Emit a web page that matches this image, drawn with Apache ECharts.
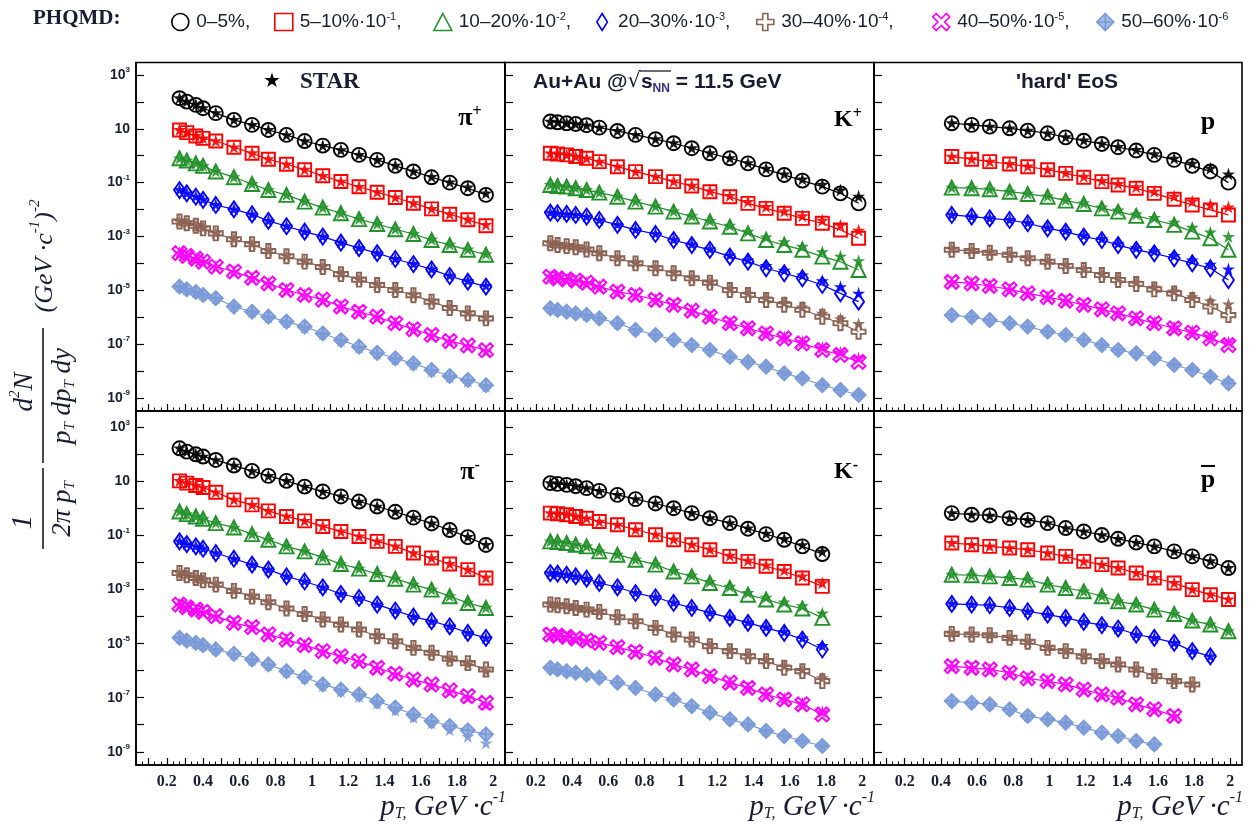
<!DOCTYPE html>
<html>
<head>
<meta charset="utf-8">
<script src="https://cdn.jsdelivr.net/npm/echarts@6/dist/echarts.min.js"></script>
<style>
  html, body { margin: 0; padding: 0; background: #ffffff; }
  #chart { width: 1249px; height: 834px; }
</style>
</head>
<body>
<div id="chart"></div>
<script>
// Centrality classes, their plotting scale factors (powers of ten) and colours
const centralities = ['0–5%', '5–10%', '10–20%', '20–30%', '30–40%', '40–50%', '50–60%'];
const scaleExp = ['', '-1', '-2', '-3', '-4', '-5', '-6'];
const colors = ['#000000', '#ff0000', '#23912a', '#0000ff', '#8c6253', '#ff00ff', '#7b9bd8'];

// Tick labels
const xTickLabels = [0.2, 0.4, 0.6, 0.8, 1.0, 1.2, 1.4, 1.6, 1.8, 2.0];
const yTickLabels = [1e3, 1e1, 1e-1, 1e-3, 1e-5, 1e-7, 1e-9];
const yTickValues = [1e3, 1e2, 1e1, 1, 1e-1, 1e-2, 1e-3, 1e-4, 1e-5, 1e-6, 1e-7, 1e-8, 1e-9];

// Transverse momentum bins (GeV/c)
const ptPion = [0.27, 0.31, 0.36, 0.40, 0.47, 0.57, 0.67, 0.76, 0.86, 0.96, 1.06, 1.16, 1.26, 1.36, 1.46, 1.56, 1.66, 1.76, 1.86, 1.96];
const ptKaon = [0.28, 0.32, 0.37, 0.42, 0.48, 0.55, 0.65, 0.75, 0.86, 0.96, 1.06, 1.16, 1.27, 1.37, 1.47, 1.57, 1.67, 1.78, 1.88, 1.98];
const ptProton = [0.46, 0.57, 0.67, 0.78, 0.88, 0.99, 1.09, 1.19, 1.29, 1.38, 1.48, 1.58, 1.69, 1.79, 1.89, 1.99];

// Invariant yields (already multiplied by the centrality scale factor), PHQMD 'hard' EoS
const phqmdPiPlus = [
  [136, 102, 77, 58, 38, 21.3, 13.9, 9.0, 5.9, 3.5, 2.37, 1.64, 1.07, 0.70, 0.42, 0.26, 0.158, 0.100, 0.062, 0.035],
  [9.0, 7.2, 5.4, 4.4, 3.5, 2.06, 1.23, 0.74, 0.48, 0.30, 0.18, 0.110, 0.070, 0.044, 0.028, 0.0172, 0.0106, 0.0067, 0.0042, 0.0025],
  [0.80, 0.66, 0.52, 0.42, 0.26, 0.159, 0.089, 0.053, 0.035, 0.0197, 0.0118, 0.0073, 0.0044, 0.0029, 0.00185, 0.00124, 0.00074, 0.00048, 0.00032, 0.00021],
  [0.053, 0.040, 0.030, 0.023, 0.0148, 0.0102, 0.0066, 0.0038, 0.0024, 0.00151, 0.00099, 0.00059, 0.00037, 0.00024, 0.000146, 0.000095, 0.000060, 0.000034, 0.000021, 0.0000137],
  [0.0036, 0.0031, 0.0025, 0.0020, 0.0013, 0.00079, 0.00052, 0.00029, 0.000185, 0.000117, 0.000074, 0.000040, 0.0000250, 0.0000158, 0.0000103, 0.0000066, 0.0000038, 0.0000022, 0.0000014, 0.00000091],
  [2.4e-4, 1.9e-4, 1.5e-4, 1.16e-4, 7.6e-5, 5.0e-5, 2.9e-5, 1.8e-5, 1.03e-5, 6.7e-6, 4.5e-6, 2.5e-6, 1.6e-6, 1.05e-6, 6.0e-7, 3.6e-7, 2.2e-7, 1.3e-7, 9.0e-8, 6.0e-8],
  [1.37e-5, 1.09e-5, 8.7e-6, 6.7e-6, 5.1e-6, 2.5e-6, 1.6e-6, 1.05e-6, 6.9e-7, 4.5e-7, 2.5e-7, 1.43e-7, 8.1e-8, 4.8e-8, 3.0e-8, 1.95e-8, 1.1e-8, 6.6e-9, 4.7e-9, 3.0e-9]
];
const phqmdKPlus = [
  [18.5, 17.4, 16.0, 15.1, 13.5, 11.0, 8.3, 5.9, 4.1, 2.9, 1.89, 1.23, 0.80, 0.52, 0.31, 0.193, 0.119, 0.071, 0.040, 0.017],
  [1.23, 1.16, 1.07, 0.93, 0.80, 0.60, 0.39, 0.256, 0.167, 0.109, 0.075, 0.046, 0.030, 0.017, 0.0111, 0.0073, 0.0047, 0.0031, 0.00175, 0.00086],
  [0.082, 0.075, 0.071, 0.062, 0.053, 0.0425, 0.030, 0.0197, 0.0128, 0.0084, 0.0055, 0.0036, 0.0023, 0.0013, 0.00074, 0.00048, 0.00032, 0.000178, 0.000116, 0.000057],
  [0.0077, 0.0073, 0.0069, 0.0063, 0.0055, 0.0041, 0.0027, 0.00175, 0.00124, 0.00074, 0.00048, 0.00032, 0.000178, 0.000116, 0.000066, 0.000043, 0.000028, 0.0000158, 0.0000077, 0.0000038],
  [0.00056, 0.00048, 0.00044, 0.00040, 0.00033, 0.000237, 0.000155, 0.000100, 0.000066, 0.000043, 0.000028, 0.0000193, 0.0000103, 0.0000067, 0.0000044, 0.0000029, 0.0000019, 0.00000105, 0.00000060, 0.00000029],
  [3.2e-5, 2.8e-5, 2.57e-5, 2.3e-5, 1.93e-5, 1.37e-5, 8.9e-6, 6.7e-6, 4.4e-6, 2.9e-6, 1.76e-6, 1.05e-6, 6.0e-7, 3.9e-7, 2.5e-7, 1.65e-7, 1.08e-7, 6.1e-8, 4.0e-8, 2.2e-8],
  [2.15e-6, 1.86e-6, 1.62e-6, 1.4e-6, 1.22e-6, 9.1e-7, 6.0e-7, 3.4e-7, 2.2e-7, 1.43e-7, 9.3e-8, 6.1e-8, 3.4e-8, 2.2e-8, 1.46e-8, 8.3e-9, 5.4e-9, 3.0e-9, 2.0e-9, 1.3e-9]
];
const phqmdProton = [
  [16.0, 13.9, 12.0, 10.4, 8.5, 6.8, 4.8, 3.6, 2.73, 2.06, 1.55, 1.07, 0.70, 0.42, 0.26, 0.10],
  [0.93, 0.74, 0.60, 0.49, 0.39, 0.30, 0.22, 0.158, 0.109, 0.082, 0.062, 0.040, 0.024, 0.0148, 0.0097, 0.0063],
  [0.065, 0.062, 0.0565, 0.046, 0.038, 0.030, 0.0214, 0.0161, 0.0111, 0.0084, 0.0058, 0.0041, 0.0027, 0.00151, 0.00086, 0.00032],
  [0.0063, 0.0055, 0.0047, 0.0041, 0.0031, 0.0020, 0.00151, 0.00099, 0.00074, 0.00048, 0.00032, 0.000237, 0.000155, 0.000100, 0.000066, 0.0000242],
  [0.00032, 0.00029, 0.00025, 0.00021, 0.000155, 0.000116, 0.000080, 0.000057, 0.000037, 0.0000242, 0.0000172, 0.0000109, 0.0000077, 0.0000044, 0.0000025, 0.0000012],
  [2.05e-5, 1.8e-5, 1.45e-5, 1.09e-5, 7.7e-6, 5.6e-6, 4.1e-6, 2.9e-6, 1.97e-6, 1.4e-6, 9.1e-7, 6.0e-7, 3.9e-7, 2.7e-7, 1.65e-7, 9.3e-8],
  [1.2e-6, 1.02e-6, 7.9e-7, 6.0e-7, 4.5e-7, 2.9e-7, 2.2e-7, 1.43e-7, 9.3e-8, 6.1e-8, 4.6e-8, 3.0e-8, 1.69e-8, 1.1e-8, 6.2e-9, 3.5e-9]
];
const phqmdPiMinus = [
  [170, 128, 102, 84, 63, 39, 24.7, 16.2, 10.6, 6.5, 4.3, 2.8, 1.82, 1.19, 0.76, 0.46, 0.28, 0.160, 0.088, 0.045],
  [10.6, 8.7, 7.1, 6.0, 4.0, 2.1, 1.37, 0.82, 0.51, 0.35, 0.218, 0.142, 0.093, 0.061, 0.040, 0.0226, 0.0148, 0.0089, 0.0055, 0.0027],
  [0.78, 0.62, 0.51, 0.42, 0.29, 0.20, 0.113, 0.070, 0.040, 0.026, 0.0156, 0.0089, 0.0060, 0.0038, 0.00254, 0.00153, 0.00100, 0.00057, 0.00032, 0.00021],
  [0.061, 0.0485, 0.040, 0.0327, 0.0226, 0.0139, 0.0084, 0.0055, 0.0031, 0.0020, 0.00122, 0.00069, 0.00049, 0.00028, 0.000168, 0.000100, 0.000068, 0.000044, 0.000025, 0.0000164],
  [0.0041, 0.0034, 0.0027, 0.0022, 0.00153, 0.00090, 0.00055, 0.00034, 0.00020, 0.000126, 0.000078, 0.000051, 0.0000333, 0.0000189, 0.0000123, 0.0000070, 0.0000046, 0.0000028, 0.0000019, 0.0000011],
  [2.8e-4, 2.23e-4, 1.83e-4, 1.5e-4, 1.04e-4, 5.9e-5, 4.1e-5, 2.2e-5, 1.42e-5, 8.8e-6, 5.3e-6, 3.4e-6, 2.25e-6, 1.28e-6, 7.7e-7, 4.7e-7, 3.1e-7, 1.86e-7, 1.15e-7, 6.5e-8],
  [1.64e-5, 1.3e-5, 1.07e-5, 8.8e-6, 6.1e-6, 4.2e-6, 2.6e-6, 1.7e-6, 9.6e-7, 5.8e-7, 3.1e-7, 2.0e-7, 1.32e-7, 7.5e-8, 4.3e-8, 2.4e-8, 1.37e-8, 9.0e-9, 6.2e-9, 4.4e-9]
];
const phqmdKMinus = [
  [8.7, 8.2, 7.5, 6.7, 5.7, 4.5, 3.2, 2.23, 1.54, 1.03, 0.68, 0.44, 0.29, 0.179, 0.113, 0.070, 0.040, 0.0207],
  [0.68, 0.64, 0.59, 0.51, 0.44, 0.33, 0.25, 0.164, 0.107, 0.070, 0.0458, 0.030, 0.017, 0.0111, 0.0073, 0.0047, 0.0027, 0.00132],
  [0.061, 0.0575, 0.053, 0.046, 0.040, 0.026, 0.0196, 0.0128, 0.0084, 0.0047, 0.0031, 0.00176, 0.00115, 0.00065, 0.00043, 0.00028, 0.00020, 0.000090],
  [0.0041, 0.0039, 0.00357, 0.0031, 0.00255, 0.00176, 0.00122, 0.00075, 0.00052, 0.00032, 0.00021, 0.000137, 0.000090, 0.0000587, 0.0000384, 0.000025, 0.0000142, 0.0000061],
  [0.00028, 0.000264, 0.000242, 0.00021, 0.000182, 0.00015, 0.000095, 0.0000676, 0.0000384, 0.0000218, 0.0000142, 0.0000081, 0.0000053, 0.0000034, 0.00000225, 0.00000128, 0.00000096, 0.00000041],
  [2.18e-5, 2.0e-5, 1.79e-5, 1.55e-5, 1.31e-5, 1.07e-5, 7.4e-6, 5.0e-6, 3.0e-6, 1.7e-6, 1.11e-6, 6.3e-7, 3.6e-7, 2.3e-7, 1.32e-7, 8.6e-8, 5.7e-8, 2.4e-8],
  [1.28e-6, 1.11e-6, 9.6e-7, 8.4e-7, 7.2e-7, 5.5e-7, 3.6e-7, 2.3e-7, 1.32e-7, 8.6e-8, 4.9e-8, 2.8e-8, 1.58e-8, 1.03e-8, 5.9e-9, 3.8e-9, 2.5e-9, 1.64e-9]
];
const phqmdAntiProton = [
  [0.68, 0.59, 0.555, 0.44, 0.38, 0.29, 0.19, 0.142, 0.105, 0.076, 0.055, 0.040, 0.026, 0.017, 0.0111, 0.0063],
  [0.053, 0.046, 0.040, 0.0345, 0.030, 0.0226, 0.017, 0.0111, 0.0084, 0.0063, 0.0041, 0.0027, 0.00176, 0.0010, 0.00065, 0.00043],
  [0.00357, 0.0034, 0.0031, 0.0027, 0.00234, 0.00153, 0.00115, 0.00087, 0.00057, 0.00037, 0.00028, 0.000182, 0.000126, 0.0000716, 0.000051, 0.0000289],
  [0.000296, 0.00028, 0.000264, 0.00021, 0.000158, 0.000119, 0.00009, 0.000064, 0.0000482, 0.0000363, 0.0000218, 0.0000164, 0.0000107, 0.0000053, 0.0000034],
  [2.3e-5, 2.18e-5, 2.06e-5, 1.64e-5, 1.17e-5, 7.0e-6, 5.3e-6, 3.4e-6, 2.25e-6, 1.7e-6, 1.11e-6, 6.3e-7, 4.1e-7, 3.1e-7],
  [1.47e-6, 1.28e-6, 1.11e-6, 8.4e-7, 5.2e-7, 4.1e-7, 3.1e-7, 2.0e-7, 1.32e-7, 1.0e-7, 5.7e-8, 3.7e-8, 2.1e-8],
  [7.5e-8, 6.5e-8, 5.7e-8, 3.7e-8, 2.1e-8, 1.58e-8, 1.19e-8, 7.8e-9, 5.1e-9, 3.8e-9, 2.5e-9, 1.89e-9]
];

// STAR measurements, same bins and scale factors
const starPiPlus = [
  [140, 105, 79, 60, 39, 22, 14.2, 9.3, 6.0, 3.6, 2.4, 1.66, 1.10, 0.72, 0.44, 0.27, 0.168, 0.106, 0.068, 0.041],
  [9.3, 7.4, 5.6, 4.5, 3.6, 2.1, 1.27, 0.77, 0.49, 0.31, 0.185, 0.113, 0.072, 0.046, 0.029, 0.0178, 0.0110, 0.0070, 0.0044, 0.0028],
  [0.82, 0.68, 0.54, 0.43, 0.27, 0.163, 0.092, 0.055, 0.036, 0.0205, 0.0122, 0.0076, 0.0046, 0.0030, 0.00195, 0.00128, 0.00078, 0.00051, 0.00034, 0.00023],
  [0.055, 0.041, 0.031, 0.024, 0.0152, 0.0105, 0.0068, 0.0039, 0.0025, 0.00156, 0.00102, 0.00062, 0.00039, 0.00025, 0.000152, 0.000098, 0.000063, 0.000036, 0.000023, 0.0000150],
  [0.0037, 0.0032, 0.0026, 0.0021, 0.00135, 0.00082, 0.00054, 0.00030, 0.000192, 0.000121, 0.000077, 0.000042, 0.0000262, 0.0000165, 0.0000108, 0.0000069, 0.0000040, 0.0000024, 0.0000015, 0.00000098],
  [2.5e-4, 2.0e-4, 1.55e-4, 1.2e-4, 7.9e-5, 5.1e-5, 3.0e-5, 1.85e-5, 1.07e-5, 6.9e-6, 4.6e-6, 2.6e-6, 1.65e-6, 1.08e-6, 6.2e-7, 3.7e-7, 2.2e-7, 1.3e-7, 8.8e-8, 5.6e-8],
  [1.4e-5, 1.1e-5, 8.9e-6, 6.9e-6, 5.2e-6, 2.6e-6, 1.6e-6, 1.0e-6, 6.6e-7, 4.2e-7, 2.4e-7, 1.35e-7, 7.6e-8, 4.5e-8, 2.8e-8, 1.8e-8, 1.0e-8, 6.1e-9, 4.2e-9, 2.7e-9]
];
const starKPlus = [
  [19.0, 17.8, 16.3, 15.4, 13.8, 11.3, 8.5, 6.1, 4.2, 3.0, 1.95, 1.28, 0.84, 0.55, 0.34, 0.21, 0.135, 0.086, 0.053, 0.031],
  [1.26, 1.18, 1.09, 0.95, 0.82, 0.62, 0.40, 0.265, 0.173, 0.114, 0.079, 0.050, 0.033, 0.020, 0.0130, 0.0088, 0.0059, 0.0040, 0.0026, 0.0017],
  [0.084, 0.077, 0.072, 0.064, 0.055, 0.044, 0.031, 0.0205, 0.0134, 0.0089, 0.0059, 0.0039, 0.0026, 0.00155, 0.00095, 0.00064, 0.00043, 0.00027, 0.000185, 0.000125],
  [0.0079, 0.0075, 0.0070, 0.0065, 0.0056, 0.0042, 0.0028, 0.00185, 0.00130, 0.00079, 0.00052, 0.00035, 0.000205, 0.000137, 0.000083, 0.000056, 0.000037, 0.0000225, 0.0000135, 0.0000078],
  [0.00057, 0.00050, 0.00045, 0.00041, 0.00034, 0.000245, 0.000162, 0.000105, 0.000070, 0.000046, 0.000030, 0.0000205, 0.0000115, 0.0000077, 0.0000052, 0.0000035, 0.0000024, 0.0000014, 0.00000088, 0.00000058],
  [3.3e-5, 2.9e-5, 2.6e-5, 2.35e-5, 1.97e-5, 1.4e-5, 9.2e-6, 6.9e-6, 4.6e-6, 3.0e-6, 1.85e-6, 1.12e-6, 6.6e-7, 4.3e-7, 2.8e-7, 1.9e-7, 1.27e-7, 7.6e-8, 5.0e-8, 3.0e-8],
  [2.2e-6, 1.9e-6, 1.65e-6, 1.43e-6, 1.25e-6, 9.3e-7, 6.1e-7, 3.5e-7, 2.3e-7, 1.5e-7, 9.8e-8, 6.4e-8, 3.6e-8, 2.4e-8, 1.6e-8, 9.3e-9, 6.1e-9, 3.5e-9, 2.3e-9, 1.5e-9]
];
const starProton = [
  [16.5, 14.2, 12.3, 10.6, 8.7, 7.0, 5.0, 3.8, 2.9, 2.2, 1.68, 1.18, 0.80, 0.52, 0.34, 0.21],
  [0.96, 0.77, 0.62, 0.51, 0.41, 0.31, 0.235, 0.170, 0.120, 0.092, 0.070, 0.048, 0.031, 0.0205, 0.0150, 0.0125],
  [0.067, 0.064, 0.058, 0.048, 0.040, 0.032, 0.023, 0.0175, 0.0124, 0.0095, 0.0068, 0.0050, 0.0034, 0.0022, 0.00145, 0.00100],
  [0.0065, 0.0057, 0.0049, 0.0043, 0.0033, 0.0022, 0.00165, 0.00110, 0.00083, 0.00056, 0.00038, 0.00029, 0.000195, 0.000133, 0.000092, 0.000062],
  [0.00034, 0.00031, 0.00026, 0.00022, 0.000165, 0.000124, 0.000087, 0.000062, 0.000041, 0.0000275, 0.0000198, 0.0000130, 0.0000094, 0.0000058, 0.0000040, 0.0000031],
  [2.1e-5, 1.85e-5, 1.5e-5, 1.13e-5, 8.0e-6, 5.8e-6, 4.3e-6, 3.05e-6, 2.1e-6, 1.5e-6, 9.8e-7, 6.6e-7, 4.4e-7, 3.1e-7, 1.95e-7, 1.2e-7],
  [1.25e-6, 1.05e-6, 8.1e-7, 6.2e-7, 4.6e-7, 3.0e-7, 2.3e-7, 1.5e-7, 9.8e-8, 6.5e-8, 5.0e-8, 3.3e-8, 1.9e-8, 1.25e-8, 7.3e-9, 4.6e-9]
];
const starPiMinus = [
  [175, 131, 104, 86, 64, 40, 25, 16.5, 10.8, 6.7, 4.4, 2.9, 1.86, 1.22, 0.79, 0.48, 0.29, 0.167, 0.092, 0.047],
  [10.9, 8.9, 7.3, 6.1, 4.1, 2.2, 1.40, 0.84, 0.53, 0.36, 0.225, 0.146, 0.096, 0.063, 0.041, 0.0232, 0.0152, 0.0092, 0.0056, 0.0029],
  [0.80, 0.64, 0.52, 0.43, 0.30, 0.20, 0.116, 0.072, 0.041, 0.027, 0.0160, 0.0091, 0.0061, 0.0039, 0.0026, 0.00157, 0.00102, 0.00059, 0.00034, 0.00022],
  [0.063, 0.050, 0.041, 0.0335, 0.023, 0.0142, 0.0086, 0.0056, 0.0032, 0.0021, 0.00125, 0.00071, 0.00050, 0.00029, 0.000172, 0.000103, 0.000069, 0.000045, 0.000026, 0.0000165],
  [0.0042, 0.0035, 0.0028, 0.0022, 0.00157, 0.00092, 0.00056, 0.00035, 0.00021, 0.000128, 0.000080, 0.000052, 0.0000340, 0.0000192, 0.0000124, 0.0000071, 0.0000046, 0.0000027, 0.0000018, 0.0000010],
  [2.9e-4, 2.3e-4, 1.87e-4, 1.52e-4, 1.06e-4, 6.1e-5, 4.2e-5, 2.25e-5, 1.45e-5, 8.9e-6, 5.3e-6, 3.4e-6, 2.2e-6, 1.25e-6, 7.5e-7, 4.5e-7, 2.9e-7, 1.7e-7, 1.0e-7, 5.5e-8],
  [1.68e-5, 1.33e-5, 1.09e-5, 8.9e-6, 6.1e-6, 4.1e-6, 2.5e-6, 1.6e-6, 9.0e-7, 5.3e-7, 2.8e-7, 1.75e-7, 1.12e-7, 6.2e-8, 3.4e-8, 1.9e-8, 1.15e-8, 6.5e-9, 3.7e-9, 2.1e-9]
];
const starKMinus = [
  [9.0, 8.4, 7.7, 6.9, 5.9, 4.6, 3.3, 2.3, 1.6, 1.07, 0.71, 0.46, 0.30, 0.190, 0.122, 0.077, 0.046, 0.026],
  [0.70, 0.66, 0.61, 0.53, 0.45, 0.34, 0.26, 0.170, 0.112, 0.074, 0.048, 0.032, 0.0185, 0.0122, 0.0081, 0.0053, 0.0032, 0.0018],
  [0.063, 0.059, 0.055, 0.047, 0.041, 0.027, 0.0204, 0.0134, 0.0089, 0.0051, 0.0034, 0.0020, 0.00132, 0.00078, 0.00052, 0.00035, 0.00025, 0.000135],
  [0.0042, 0.0040, 0.0037, 0.0032, 0.0026, 0.0018, 0.00125, 0.00078, 0.00054, 0.00034, 0.00022, 0.000145, 0.000096, 0.000063, 0.000042, 0.000028, 0.0000165, 0.0000085],
  [0.00029, 0.00027, 0.00025, 0.000215, 0.000186, 0.000153, 0.000098, 0.000070, 0.000040, 0.0000228, 0.0000150, 0.0000087, 0.0000057, 0.0000037, 0.0000025, 0.0000015, 0.0000011, 0.00000055],
  [2.2e-5, 2.05e-5, 1.83e-5, 1.58e-5, 1.34e-5, 1.09e-5, 7.6e-6, 5.1e-6, 3.1e-6, 1.75e-6, 1.15e-6, 6.6e-7, 3.8e-7, 2.45e-7, 1.42e-7, 9.3e-8, 6.3e-8, 3.0e-8],
  [1.3e-6, 1.13e-6, 9.8e-7, 8.6e-7, 7.3e-7, 5.6e-7, 3.7e-7, 2.35e-7, 1.35e-7, 8.8e-8, 5.0e-8, 2.9e-8, 1.65e-8, 1.08e-8, 6.3e-9, 4.1e-9, 2.8e-9, 1.9e-9]
];
const starAntiProton = [
  [0.70, 0.61, 0.56, 0.45, 0.39, 0.30, 0.195, 0.146, 0.108, 0.078, 0.057, 0.041, 0.027, 0.0178, 0.0116, 0.0066],
  [0.055, 0.047, 0.041, 0.0355, 0.031, 0.0232, 0.0175, 0.0115, 0.0086, 0.0065, 0.0043, 0.0028, 0.00182, 0.00105, 0.00068, 0.00045],
  [0.0037, 0.0035, 0.0032, 0.0028, 0.0024, 0.00158, 0.00118, 0.00089, 0.00059, 0.00038, 0.00029, 0.000188, 0.000130, 0.000074, 0.000053, 0.000030],
  [0.00031, 0.00029, 0.00027, 0.000215, 0.000162, 0.000122, 0.000092, 0.000066, 0.0000495, 0.0000372, 0.0000224, 0.0000168, 0.0000110, 0.0000055, 0.0000035],
  [2.35e-5, 2.22e-5, 2.1e-5, 1.67e-5, 1.2e-5, 7.2e-6, 5.4e-6, 3.5e-6, 2.3e-6, 1.75e-6, 1.14e-6, 6.5e-7, 4.2e-7, 3.2e-7],
  [1.5e-6, 1.31e-6, 1.13e-6, 8.6e-7, 5.3e-7, 4.2e-7, 3.2e-7, 2.05e-7, 1.35e-7, 1.02e-7, 5.9e-8, 3.8e-8, 2.15e-8],
  [7.7e-8, 6.6e-8, 5.8e-8, 3.8e-8, 2.15e-8, 1.62e-8, 1.22e-8, 8.0e-9, 5.2e-9, 3.9e-9, 2.6e-9, 1.93e-9]
];

// Panel order: top row pi+, K+, p ; bottom row pi-, K-, anti-p
const panels = [
  { pt: ptPion, model: phqmdPiPlus, star: starPiPlus },
  { pt: ptKaon, model: phqmdKPlus, star: starKPlus },
  { pt: ptProton, model: phqmdProton, star: starProton },
  { pt: ptPion, model: phqmdPiMinus, star: starPiMinus },
  { pt: ptKaon, model: phqmdKMinus, star: starKMinus },
  { pt: ptProton, model: phqmdAntiProton, star: starAntiProton }
];

// Frame geometry
const colLeft = [136, 505, 874];
const colWidth = [369, 369, 368];
const rowTop = [62.5, 411];
const rowHeight = [348.5, 354];
const rowLogRange = [[-9.48, 3.46], [-9.49, 3.61]];
const xRange = [0.03, 2.065];

// Tick positions along pT: tall every 0.1, short ones in between
const xMajorTicks = [];
for (let i = 1; i <= 20; i++) xMajorTicks.push(+(i / 10).toFixed(2));
const xMinorTicks = [];
for (let i = 1; i <= 61; i++) if (i % 3 !== 0) xMinorTicks.push(+(i / 30).toFixed(4));

// Marker shapes
const starPath = 'path://M50,2L61.2,36.6L97.6,36.6L68.2,58L79.4,92.6L50,71.2L20.6,92.6L31.8,58L2.4,36.6L38.8,36.6Z';
const diamondPath = 'path://M5,0L10,8L5,16L0,8Z';
const crossPath = 'path://M3.5,0H6.5V3.5H10V6.5H6.5V10H3.5V6.5H0V3.5H3.5Z';
const xPath = 'path://M2,0L5,3L8,0L10,2L7,5L10,8L8,10L5,7L2,10L0,8L3,5L0,2Z';
const diamondCrossPath = 'path://M5,0L10,5L5,10L0,5Z M5,0L5,10 M0,5L10,5';
const modelSymbols = ['circle', 'rect', 'triangle', diamondPath, crossPath, xPath, diamondCrossPath];
const modelSizes = [14, 13, 14, [11, 16], 14, 14, 14];
const modelFill = ['rgba(0,0,0,0)', 'rgba(0,0,0,0)', 'rgba(0,0,0,0)', 'rgba(0,0,0,0)', 'rgba(0,0,0,0)', 'rgba(0,0,0,0)', 'rgba(123,155,216,0.7)'];

const SANS = 'Liberation Sans';
const SERIF = 'Liberation Serif';
const INK = '#1b1b33';

const grids = [], xAxes = [], yAxes = [], series = [];

panels.forEach((panel, k) => {
  const row = Math.floor(k / 3), col = k % 3;
  grids.push({
    left: colLeft[col], top: rowTop[row], width: colWidth[col], height: rowHeight[row],
    show: true, borderColor: '#000', borderWidth: 1.6, backgroundColor: 'rgba(0,0,0,0)', containLabel: false
  });
  xAxes.push({
    type: 'value', gridIndex: k, position: 'bottom', min: xRange[0], max: xRange[1],
    axisLine: { show: true, lineStyle: { color: '#000', width: 1.6 } },
    axisTick: { show: true, inside: true, length: 7, customValues: xMajorTicks, lineStyle: { color: '#000', width: 1.2 } },
    axisLabel: {
      show: row === 1, customValues: xTickLabels, margin: 9,
      formatter: v => String(+(+v).toFixed(1)),
      fontFamily: SERIF, fontWeight: 'bold', fontSize: 16, color: INK
    },
    splitLine: { show: false }
  });
  xAxes.push({
    type: 'value', gridIndex: k, position: 'bottom', min: xRange[0], max: xRange[1],
    axisLine: { show: false },
    axisTick: { show: true, inside: true, length: 3.5, customValues: xMinorTicks, lineStyle: { color: '#000', width: 1 } },
    axisLabel: { show: false },
    splitLine: { show: false }
  });
  yAxes.push({
    type: 'log', logBase: 10, gridIndex: k, position: 'left',
    min: Math.pow(10, rowLogRange[row][0]), max: Math.pow(10, rowLogRange[row][1]),
    axisLine: { show: true, lineStyle: { color: '#000', width: 1.6 } },
    axisTick: { show: true, inside: true, length: 8, customValues: yTickValues, lineStyle: { color: '#000', width: 1.2 } },
    axisLabel: {
      show: col === 0, customValues: yTickLabels, margin: 6,
      formatter: v => {
        const n = Math.round(Math.log10(v));
        return n === 1 ? '10' : '10{s|' + n + '}';
      },
      fontFamily: SANS, fontWeight: 'bold', fontSize: 14, color: INK, lineHeight: 18,
      rich: { s: { fontFamily: SANS, fontWeight: 'bold', fontSize: 8, lineHeight: 8, verticalAlign: 'top', color: INK } }
    },
    splitLine: { show: false },
    minorTick: { show: false }
  });

  panel.model.forEach((vals, c) => {
    series.push({
      type: 'line', name: centralities[c], xAxisIndex: 2 * k, yAxisIndex: k,
      data: vals.map((v, i) => [panel.pt[i], v]),
      symbol: modelSymbols[c], symbolSize: modelSizes[c],
      itemStyle: { color: modelFill[c], borderColor: colors[c], borderWidth: 1.9 },
      lineStyle: { color: colors[c], width: 1.2 },
      z: 3, silent: true
    });
  });
  panel.star.forEach((vals, c) => {
    series.push({
      type: 'scatter', name: 'STAR ' + centralities[c], xAxisIndex: 2 * k, yAxisIndex: k,
      data: vals.map((v, i) => [panel.pt[i], v]),
      symbol: starPath, symbolSize: 13,
      itemStyle: { color: colors[c], opacity: 0.9 },
      z: 4, silent: true
    });
  });
});

// One legend block per centrality so each entry sits at its own place in the header
const legendCenters = [175, 278, 437, 600, 760, 936, 1100];
const legends = centralities.map((name, c) => ({
  left: legendCenters[c] - 9, top: 6, orient: 'horizontal',
  itemWidth: 18, itemHeight: 17, itemGap: 0, selectedMode: false,
  data: [{ name, icon: modelSymbols[c],
           itemStyle: { color: modelFill[c], borderColor: colors[c], borderWidth: 1.6 } }],
  formatter: n => {
    const i = centralities.indexOf(n);
    return i === 0 ? n + ',' : n + '·10{s|' + scaleExp[i] + '}' + (i < 6 ? ',' : '');
  },
  textStyle: {
    fontFamily: SANS, fontSize: 19, color: INK, lineHeight: 22, padding: [0, 0, 0, 2],
    rich: { s: { fontFamily: SANS, fontSize: 11, lineHeight: 11, verticalAlign: 'top', color: INK } }
  }
}));

const subRich = (size) => ({
  sub: { fontFamily: SERIF, fontStyle: 'italic', fontSize: size, lineHeight: 34, verticalAlign: 'bottom', fill: INK, padding: [0, 0, 2, 0] },
  sup: { fontFamily: SERIF, fontStyle: 'italic', fontSize: size, lineHeight: size, verticalAlign: 'top', fill: INK }
});

const graphics = [
  { type: 'text', x: 33, y: 19, style: { text: 'PHQMD:', fontFamily: SERIF, fontWeight: 'bold', fontSize: 21, fill: INK, verticalAlign: 'middle' } },
  // panel captions
  { type: 'text', x: 263, y: 82, style: { text: '★', fontFamily: 'DejaVu Sans', fontSize: 20, fill: '#000', verticalAlign: 'middle' } },
  { type: 'text', x: 300, y: 82, style: { text: 'STAR', fontFamily: SERIF, fontWeight: 'bold', fontSize: 23, fill: INK, verticalAlign: 'middle' } },
  { type: 'text', x: 533, y: 82, style: {
      text: 'Au+Au @{r|√}s{sub|NN} = 11.5 GeV', fontFamily: SANS, fontWeight: 'bold', fontSize: 21, fill: INK, verticalAlign: 'middle', lineHeight: 26,
      rich: {
        r: { fontFamily: 'DejaVu Sans', fontSize: 21, lineHeight: 26, fill: INK },
        sub: { fontFamily: SANS, fontWeight: 'bold', fontSize: 12, lineHeight: 26, verticalAlign: 'bottom', fill: '#3a2a88' }
      } } },
  { type: 'line', shape: { x1: 640, y1: 71, x2: 671, y2: 71 }, style: { stroke: INK, lineWidth: 1.3 } },
  { type: 'text', x: 1067, y: 82, style: { text: "'hard' EoS", fontFamily: SANS, fontWeight: 'bold', fontSize: 21, fill: INK, align: 'center', verticalAlign: 'middle' } },
  // particle labels
  { type: 'text', x: 470, y: 118, style: { text: 'π{s|+}', fontFamily: SERIF, fontWeight: 'bold', fontSize: 26, fill: '#000', align: 'center', verticalAlign: 'middle', lineHeight: 28,
      rich: { s: { fontFamily: SERIF, fontWeight: 'bold', fontSize: 16, lineHeight: 16, verticalAlign: 'top', fill: '#000' } } } },
  { type: 'text', x: 848, y: 120, style: { text: 'K{s|+}', fontFamily: SERIF, fontWeight: 'bold', fontSize: 24, fill: '#000', align: 'center', verticalAlign: 'middle', lineHeight: 28,
      rich: { s: { fontFamily: SERIF, fontWeight: 'bold', fontSize: 16, lineHeight: 16, verticalAlign: 'top', fill: '#000' } } } },
  { type: 'text', x: 1208, y: 122, style: { text: 'p', fontFamily: SERIF, fontWeight: 'bold', fontSize: 26, fill: '#000', align: 'center', verticalAlign: 'middle' } },
  { type: 'text', x: 470, y: 472, style: { text: 'π{s|-}', fontFamily: SERIF, fontWeight: 'bold', fontSize: 26, fill: '#000', align: 'center', verticalAlign: 'middle', lineHeight: 28,
      rich: { s: { fontFamily: SERIF, fontWeight: 'bold', fontSize: 16, lineHeight: 16, verticalAlign: 'top', fill: '#000' } } } },
  { type: 'text', x: 846, y: 472, style: { text: 'K{s|-}', fontFamily: SERIF, fontWeight: 'bold', fontSize: 24, fill: '#000', align: 'center', verticalAlign: 'middle', lineHeight: 28,
      rich: { s: { fontFamily: SERIF, fontWeight: 'bold', fontSize: 16, lineHeight: 16, verticalAlign: 'top', fill: '#000' } } } },
  { type: 'text', x: 1208, y: 480, style: { text: 'p', fontFamily: SERIF, fontWeight: 'bold', fontSize: 26, fill: '#000', align: 'center', verticalAlign: 'middle' } },
  { type: 'line', shape: { x1: 1201, y1: 466, x2: 1215, y2: 466 }, style: { stroke: '#000', lineWidth: 2 } },
  // vertical axis title
  { type: 'text', x: 23, y: 522, rotation: Math.PI / 2, style: { text: '1', fontFamily: SERIF, fontStyle: 'italic', fontSize: 30, fill: INK, align: 'center', verticalAlign: 'middle' } },
  { type: 'line', shape: { x1: 43, y1: 468, x2: 43, y2: 549 }, style: { stroke: INK, lineWidth: 1.6 } },
  { type: 'text', x: 63, y: 509, rotation: Math.PI / 2, style: { text: '2π p{sub|T}', fontFamily: SERIF, fontStyle: 'italic', fontSize: 27, fill: INK, align: 'center', verticalAlign: 'middle', lineHeight: 34, rich: subRich(15) } },
  { type: 'text', x: 25, y: 392, rotation: Math.PI / 2, style: { text: 'd{sup|2}N', fontFamily: SERIF, fontStyle: 'italic', fontSize: 27, fill: INK, align: 'center', verticalAlign: 'middle', lineHeight: 34, rich: subRich(15) } },
  { type: 'line', shape: { x1: 43, y1: 328, x2: 43, y2: 463 }, style: { stroke: INK, lineWidth: 1.6 } },
  { type: 'text', x: 63, y: 396, rotation: Math.PI / 2, style: { text: 'p{sub|T} dp{sub|T} dy', fontFamily: SERIF, fontStyle: 'italic', fontSize: 27, fill: INK, align: 'center', verticalAlign: 'middle', lineHeight: 34, rich: subRich(15) } },
  { type: 'text', x: 45, y: 256, rotation: Math.PI / 2, style: { text: '(GeV ·c{sup|-1}){sup|-2}', fontFamily: SERIF, fontStyle: 'italic', fontSize: 26, fill: INK, align: 'center', verticalAlign: 'middle', lineHeight: 34, rich: subRich(15) } }
];

// horizontal axis titles under each column
colLeft.forEach((l, c) => {
  graphics.push({ type: 'text', x: l + colWidth[c] + 1, y: 807, style: {
    text: 'p{sub|T,} GeV ·c{sup|-1}', fontFamily: SERIF, fontStyle: 'italic', fontSize: 29, fill: INK,
    align: 'right', verticalAlign: 'middle', lineHeight: 34, rich: subRich(16) } });
});

const chart = echarts.init(document.getElementById('chart'), null, { renderer: 'canvas' });
chart.setOption({
  animation: false,
  backgroundColor: '#ffffff',
  legend: legends,
  grid: grids,
  xAxis: xAxes,
  yAxis: yAxes,
  series: series,
  graphic: { elements: graphics }
});
</script>
</body>
</html>
